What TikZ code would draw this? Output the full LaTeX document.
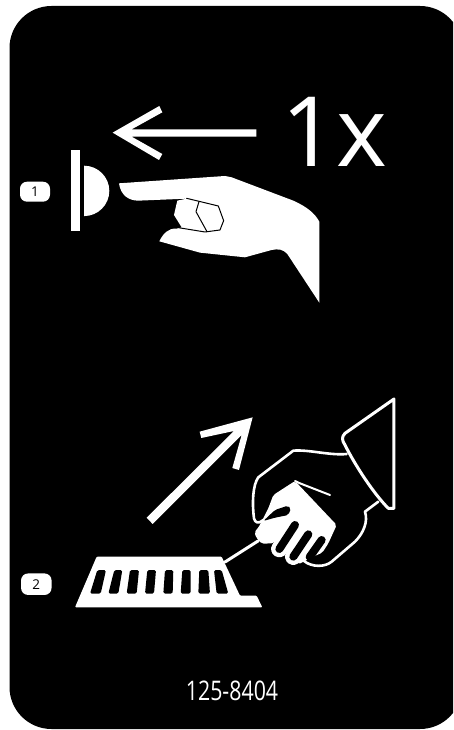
\documentclass[tikz,border=0pt]{standalone}
\usepackage{fontspec}
\setmainfont{Open Sans}
\tikzset{
  wfill/.style={fill=white,draw=none},
  wline/.style={draw=white,line join=round,line cap=round,fill=none},
  kline/.style={draw=black,line join=round,line cap=round,fill=none},
  slot/.style={fill=black,rounded corners=1.6pt},
  badge/.style={fill=white,rounded corners=7pt,inner sep=0pt,text=black},
  zooma/.style={shift={(0,80)},x=0.3333pt,y=-0.3333pt},
  zoomb/.style={shift={(0,380)},x=0.3333pt,y=-0.3333pt},
  zoomc/.style={shift={(230,390)},x=0.3333pt,y=-0.3333pt},
  zoomd/.style={shift={(245,475)},x=0.3333pt,y=-0.3333pt},
  zoome/.style={shift={(70,550)},x=0.3333pt,y=-0.3333pt},
}
\begin{document}
\begin{tikzpicture}[x=1pt,y=-1pt]
\useasboundingbox (0,0) rectangle (453,730);
\clip (0,0) rectangle (453,730);
\fill[white] (0,0) rectangle (453,730);
\fill[black,rounded corners=42pt] (9.5,6) rectangle (462,729);

% arrow 1
\begin{scope}[zooma]
\fill[white] (338,158) -- (478,78) -- (487,97) -- (395,148) -- (769,148) -- (769,170) -- (395,170) -- (487,222) -- (477,240) -- cycle;
% hand 1
\fill[white] (357,310) -- (675,288) -- (695,292) -- (880,362) .. controls (920,380) and (945,400) .. (958,425)
  -- (958,668) -- (862,522) .. controls (850,508) and (835,506) .. (815,510) -- (735,532) -- (600,518) -- (478,484)
  .. controls (490,460) and (505,444) .. (530,446) -- (545,442) -- (522,405) -- (532,362) -- (560,356) -- (415,362)
  .. controls (385,362) and (362,345) .. (357,310) -- cycle;
\draw[kline,line width=1pt] (560,355) -- (655,378) -- (671,422) -- (660,450) -- (615,456) -- (535,443);
\draw[kline,line width=1pt] (597,365) -- (588,395) -- (621,455);
\end{scope}
\node[font=\fontsize{97}{97}\selectfont,text=white,anchor=base west,inner sep=0pt] (onex) at (281,167) {1x};

% button
\fill[white] (71,150) rectangle (80,230.7);
\fill[white] (84,165.7) arc[start angle=-90,end angle=90,x radius=25.3,y radius=25.2] -- cycle;
\node[badge,minimum width=30pt,minimum height=20pt,font=\fontsize{13.5}{13.5}\selectfont] (b1) at (35,191.7) {1};
\node[badge,minimum width=30.5pt,minimum height=21.5pt,font=\fontsize{13.5}{13.5}\selectfont] (b2) at (36.3,584.2) {2};

% diagonal arrow
\begin{scope}[zoomb]
\fill[white] (758,112) -- (717,270) -- (697,264) -- (725,165) -- (458,432) -- (440,413) -- (702,153) -- (604,174) -- (599,155) -- cycle;
\end{scope}

% grate
\begin{scope}[zoome]
\fill[white,rounded corners=1pt] (80,20) -- (455,20) -- (510,137) -- (560,137) -- (577,172) -- (15,172) -- cycle;
\foreach \a/\b/\c/\d in {82/108/60/92,133/157/115/145,180/207/170/200,232/258/225/252,285/310/280/308,337/362/332/362,388/415/385/420,432/455/440/475}{
  \fill[slot] (\a,60) -- (\b,60) -- (\d,131) -- (\c,131) -- cycle;
}
\end{scope}
\coordinate (shafta) at (225,562);
\coordinate (shaftb) at (258,541);
\draw[wline,line width=3pt] (shafta) -- (shaftb);

% gloved hand
\begin{scope}[zoomd]
\fill[white,rounded corners=2pt] (28,172) -- (42,155) -- (70,100) -- (85,60) -- (150,18) -- (275,150) -- (250,205) -- (232,233) -- (222,237) -- (160,268) -- (100,190) -- (85,205) -- (50,206) -- (35,190) -- cycle;
\draw[wline,line width=16.5pt] (150,150) -- (103,222);
\draw[wline,line width=16.5pt] (190,178) -- (145,245);
\draw[kline,line width=8pt] (150,150) -- (103,222);
\draw[kline,line width=8pt] (190,178) -- (145,245);
\draw[kline,line width=8pt] (230,195) -- (194,246);
\fill[black,rounded corners=2pt] (55,138) -- (90,105) -- (128,92) -- (138,100) -- (130,120) -- (90,128) -- cycle;
\draw[wline,line width=2pt] (150,18) -- (165,25) -- (255,60);
\end{scope}
\begin{scope}[zoomc]
\draw[wline,line width=2.6pt] (350,192) .. controls (300,197) and (235,178) .. (190,182) -- (85,262)
  .. controls (68,285) and (66,340) .. (72,385) .. controls (75,398) and (85,403) .. (100,390);
\draw[wline,line width=2.6pt] (445,335) -- (405,365) .. controls (415,395) and (400,430) .. (375,455) -- (305,515) .. controls (285,532) and (245,532) .. (222,513);
\draw[wline,line width=3pt] (492,27) -- (492,355) -- (475,355) .. controls (430,310) and (375,225) .. (345,165) .. controls (335,150) and (335,140) .. (345,130) -- cycle;
\end{scope}

\node[font=\fontsize{27}{27}\selectfont,text=white,anchor=base,inner sep=0pt,xscale=0.79] (code) at (232,700) {125-8404};
\end{tikzpicture}
\end{document}
